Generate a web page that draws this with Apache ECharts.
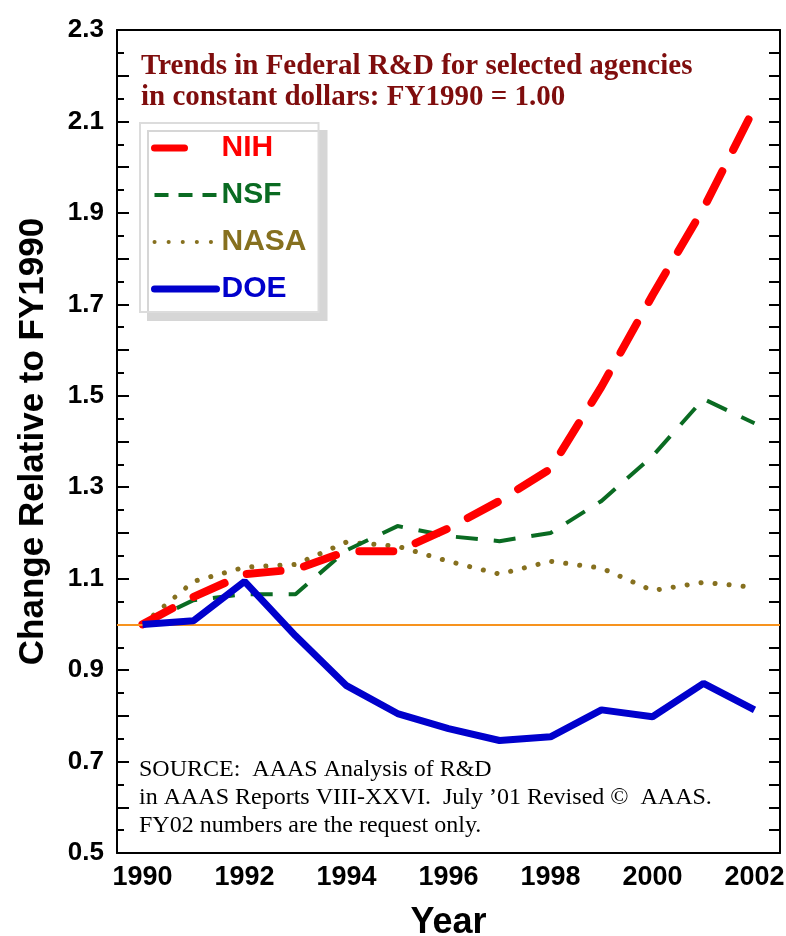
<!DOCTYPE html>
<html>
<head>
<meta charset="utf-8">
<script src="https://cdn.jsdelivr.net/npm/echarts@6/dist/echarts.min.js"></script>
<style>
  html, body { margin: 0; padding: 0; background: #fff; }
  #main { width: 786px; height: 936px; }
</style>
</head>
<body>
<div id="main"></div>
<script>
var years = ['1990', '1991', '1992', '1993', '1994', '1995', '1996', '1997', '1998', '1999', '2000', '2001', '2002'];
var nih  = [1.00, 1.06, 1.11, 1.12, 1.16, 1.16, 1.21, 1.27, 1.34, 1.52, 1.72, 1.91, 2.13];
var nsf  = [1.00, 1.053, 1.066, 1.066, 1.162, 1.215, 1.193, 1.182, 1.20, 1.27, 1.368, 1.493, 1.44];
var nasa = [1.00, 1.094, 1.125, 1.131, 1.18, 1.171, 1.138, 1.11, 1.138, 1.123, 1.074, 1.092, 1.081];
var doe  = [1.00, 1.008, 1.094, 0.975, 0.866, 0.805, 0.772, 0.746, 0.754, 0.813, 0.798, 0.871, 0.813];
var yTickLabels = ['0.5', '0.7', '0.9', '1.1', '1.3', '1.5', '1.7', '1.9', '2.1', '2.3'];
var baseline = 1.0;

var chart = echarts.init(document.getElementById('main'));
var sans = 'Liberation Sans, Arial, sans-serif';
var serif = 'Liberation Serif, Times New Roman, serif';

var option = {
    animation: false,
    backgroundColor: '#fff',
    title: {
        text: 'Trends in Federal R&D for selected agencies\nin constant dollars: FY1990 = 1.00',
        left: 141,
        top: 51,
        padding: 0,
        textStyle: {
            fontFamily: serif,
            fontWeight: 'bold',
            fontSize: 29,
            lineHeight: 31,
            color: '#7f0d0d'
        }
    },
    legend: {
        orient: 'vertical',
        left: 140,
        top: 123,
        padding: [10, 12, 8, 11],
        itemGap: 17,
        itemWidth: 62,
        itemHeight: 26,
        backgroundColor: '#fff',
        borderColor: '#dcdcdc',
        borderWidth: 2,
        shadowColor: '#d6d6d6',
        shadowBlur: 0,
        shadowOffsetX: 8,
        shadowOffsetY: 8,
        itemStyle: { opacity: 0 },
        textStyle: { fontFamily: sans, fontWeight: 'bold', fontSize: 30, padding: [0, 0, 0, 0] },
        data: [
            { name: 'NIH', textStyle: { color: '#ff0000' }, lineStyle: { width: 7, color: '#ff0000', type: [30, 40], cap: 'round' } },
            { name: 'NSF', textStyle: { color: '#0a6b22' }, lineStyle: { width: 4, color: '#0a6b22', type: [14, 10], cap: 'butt' } },
            { name: 'NASA', textStyle: { color: '#86701f' }, lineStyle: { width: 4, color: '#86701f', type: [0.1, 14], cap: 'round' } },
            { name: 'DOE', textStyle: { color: '#0000cc' }, lineStyle: { width: 7, color: '#0000cc', type: 'solid', cap: 'round' } }
        ]
    },
    grid: {
        left: 117,
        right: 6,
        top: 30,
        bottom: 83,
        outerBoundsMode: 'none'
    },
    xAxis: [
        {
            type: 'category',
            data: years,
            boundaryGap: true,
            axisLine: { lineStyle: { color: '#000', width: 2 } },
            axisTick: { inside: true, length: 12, alignWithLabel: true, interval: 0, lineStyle: { color: '#000', width: 2 } },
            axisLabel: { interval: 1, color: '#000', fontFamily: sans, fontWeight: 'bold', fontSize: 27, margin: 11 },
            splitLine: { show: false },
            name: 'Year',
            nameLocation: 'middle',
            nameGap: 52,
            nameTextStyle: { color: '#000', fontFamily: sans, fontWeight: 'bold', fontSize: 36 }
        },
        {
            type: 'category',
            data: years,
            position: 'top',
            boundaryGap: true,
            axisLine: { lineStyle: { color: '#000', width: 2 } },
            axisTick: { inside: true, length: 12, alignWithLabel: true, interval: 0, lineStyle: { color: '#000', width: 2 } },
            axisLabel: { show: false },
            splitLine: { show: false }
        }
    ],
    yAxis: [
        {
            type: 'value',
            min: 0.5,
            max: 2.3,
            interval: 0.1,
            axisLine: { show: true, lineStyle: { color: '#000', width: 2 } },
            axisTick: { show: true, inside: true, length: 12, lineStyle: { color: '#000', width: 2 } },
            minorTick: { show: true, splitNumber: 2, length: 7, lineStyle: { color: '#000', width: 2 } },
            axisLabel: {
                color: '#000', fontFamily: sans, fontWeight: 'bold', fontSize: 26, margin: 13,
                formatter: function (v) {
                    var s = v.toFixed(1);
                    return yTickLabels.indexOf(s) >= 0 ? s : '';
                }
            },
            splitLine: { show: false },
            name: 'Change Relative to FY1990',
            nameLocation: 'middle',
            nameGap: 66,
            nameTextStyle: { color: '#000', fontFamily: sans, fontWeight: 'bold', fontSize: 35 }
        },
        {
            type: 'value',
            position: 'right',
            min: 0.5,
            max: 2.3,
            interval: 0.05,
            axisLine: { show: true, lineStyle: { color: '#000', width: 2 } },
            axisTick: { show: true, inside: true, length: 11, lineStyle: { color: '#000', width: 2 } },
            axisLabel: { show: false },
            splitLine: { show: false }
        }
    ],
    series: [
        {
            name: 'NASA', type: 'line', data: nasa, symbol: 'none', z: 2,
            itemStyle: { color: '#86701f' },
            lineStyle: { color: '#86701f', width: 5, type: [0.1, 14], cap: 'round' }
        },
        {
            name: 'NSF', type: 'line', data: nsf, symbol: 'none', z: 3,
            itemStyle: { color: '#0a6b22' },
            lineStyle: { color: '#0a6b22', width: 4, type: [22, 16], cap: 'butt' }
        },
        {
            name: 'NIH', type: 'line', data: nih, symbol: 'none', z: 4,
            itemStyle: { color: '#ff0000' },
            lineStyle: { color: '#ff0000', width: 8, type: [34, 24], cap: 'round' }
        },
        {
            name: 'DOE', type: 'line', data: doe, symbol: 'none', z: 5,
            itemStyle: { color: '#0000cc' },
            lineStyle: { color: '#0000cc', width: 7 },
            markLine: {
                silent: true,
                symbol: 'none',
                label: { show: false },
                lineStyle: { color: '#f7931e', width: 2, type: 'solid' },
                data: [{ yAxis: baseline }]
            }
        }
    ],
    graphic: [
        {
            type: 'text',
            left: 139,
            top: 756,
            style: {
                text: 'SOURCE:  AAAS Analysis of R&D\nin AAAS Reports VIII-XXVI.  July \u201901 Revised \u00a9  AAAS.\nFY02 numbers are the request only.',
                font: '24px ' + serif,
                lineHeight: 28,
                fill: '#000'
            }
        }
    ]
};

chart.setOption(option);
</script>
</body>
</html>
